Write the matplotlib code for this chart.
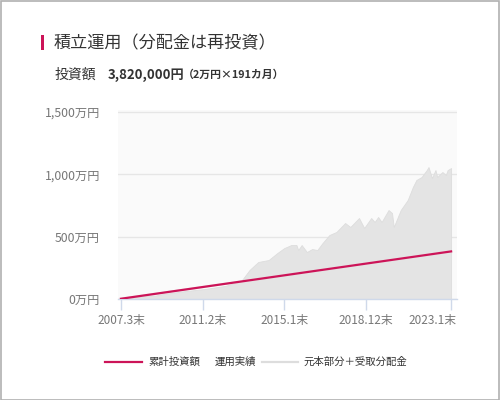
import matplotlib
matplotlib.use("Agg")
import matplotlib.pyplot as plt
from matplotlib.lines import Line2D
from matplotlib.patches import Rectangle
from matplotlib.ticker import FuncFormatter
from matplotlib.transforms import ScaledTranslation

plt.rcParams['font.family'] = ['Noto Sans CJK JP', 'DejaVu Sans']

# months counted from 2007.3
invest_months = [0, 190]
invest_values = [2, 382]          # 2万円 x months, in 万円

perf_months = [0, 12, 20, 24, 36, 48, 60, 66, 69, 74, 79, 85, 90, 94, 98, 101,
               102, 104, 107, 110, 113, 116, 119, 120, 124, 129, 132, 137, 140,
               144, 146, 148, 150, 154, 156, 157, 161, 165, 168, 170, 173, 176,
               177, 179, 181, 182, 185, 187, 188, 190]
perf_values = [2, 22, 28, 40, 62, 80, 105, 130, 140, 233, 297, 313, 369, 409,
               433, 433, 393, 433, 377, 401, 393, 449, 498, 514, 538, 610, 578,
               650, 570, 650, 618, 658, 618, 714, 690, 578, 714, 794, 899, 955,
               979, 1035, 1059, 971, 1035, 979, 1019, 995, 1035, 1051]

tick_months = [0, 47, 94, 141, 190]
tick_labels = ["2007.3末", "2011.2末", "2015.1末", "2018.12末", "2023.1末"]
y_ticks = [0, 500, 1000, 1500]

RED = "#cc1458"
AREA = "#e4e4e4"

fig = plt.figure(figsize=(5, 4), dpi=100)
fig.patch.set_facecolor("white")
fig.add_artist(Rectangle((0.001, 0.001), 0.997, 0.997, transform=fig.transFigure,
                         fill=False, edgecolor="#b0b0b0", linewidth=1.2))

# header
fig.add_artist(Rectangle((41 / 500, 1 - 50 / 400), 3 / 500, 15 / 400,
                         transform=fig.transFigure, color=RED, linewidth=0))
fig.text(54 / 500, 1 - 43 / 400, "積立運用（分配金は再投資）", fontsize=12.3,
         color="#333333", va="center", ha="left")
fig.text(55 / 500, 1 - 75 / 400, "投資額", fontsize=10, color="#333333",
         va="center", ha="left")
fig.text(108 / 500, 1 - 75 / 400, "3,820,000円", fontsize=9.5, color="#333333",
         va="center", ha="left", fontweight="bold")
fig.text(183 / 500, 1 - 75 / 400, "（2万円×191カ月）", fontsize=7.8, color="#333333",
         va="center", ha="left", fontweight="bold")

ax = fig.add_axes([118 / 500, 1 - 299 / 400, 339 / 500, 189 / 400])
ax.set_facecolor("#fafafa")

ax.fill_between(perf_months, perf_values, 0, color=AREA, linewidth=0.6,
                edgecolor="#dddddd", zorder=2)
ax.plot(invest_months, invest_values, color="#eeeeee", linewidth=1.5, zorder=3)
ax.plot(invest_months, invest_values, color=RED, linewidth=1.6, zorder=4)

ax.set_xlim(-1.7, 193.4)
ax.set_ylim(0, 1517)
ax.set_yticks(y_ticks)
ax.yaxis.set_major_formatter(FuncFormatter(lambda v, p: f"{int(v):,}万円"))
ax.set_xticks(tick_months)
ax.set_xticklabels(tick_labels)
ax.grid(axis="y", color="#e6e6e6", linewidth=1, zorder=1)
ax.set_axisbelow(True)

for s in ["top", "right", "left"]:
    ax.spines[s].set_visible(False)
ax.spines["bottom"].set_color("#cfd9ea")
ax.spines["bottom"].set_linewidth(1)
ax.tick_params(axis="y", length=0, pad=13, labelsize=8.8, labelcolor="#777777")
ax.tick_params(axis="x", length=8, width=1, color="#cfd9ea", pad=3,
               labelsize=8.5, labelcolor="#777777")

# last date label sits flush with the right edge of the chart
last = ax.get_xticklabels()[-1]
last.set_horizontalalignment("right")
last.set_transform(last.get_transform() + ScaledTranslation(5 / 100, 0, fig.dpi_scale_trans))

# legend row
ly = 1 - 362 / 400
fig.add_artist(Line2D([105 / 500, 142 / 500], [ly, ly], color=RED, linewidth=1.6,
                      transform=fig.transFigure))
fig.text(148 / 500, ly, "累計投資額", fontsize=7.5, color="#333333", va="center")
fig.text(215 / 500, ly, "運用実績", fontsize=7.5, color="#333333", va="center")
fig.add_artist(Line2D([262 / 500, 298 / 500], [ly, ly], color="#dddddd", linewidth=1.6,
                      transform=fig.transFigure))
fig.text(303 / 500, ly, "元本部分＋受取分配金", fontsize=7.5, color="#333333", va="center")

fig.savefig("out.png", dpi=100)
